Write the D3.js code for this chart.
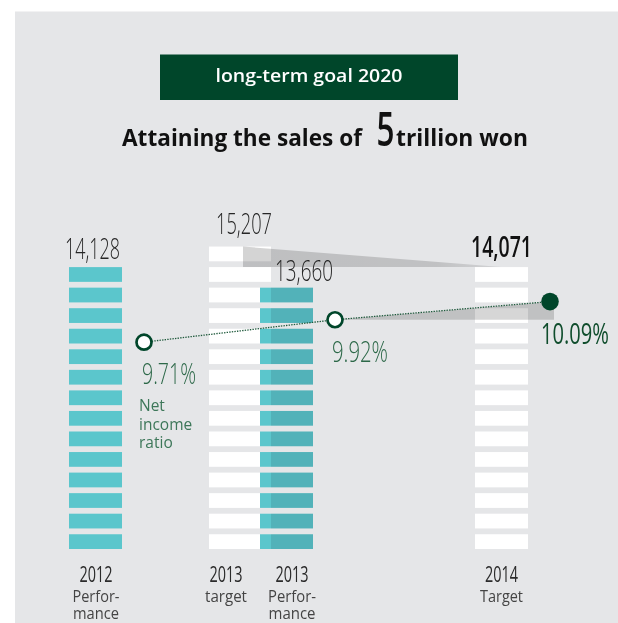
<!DOCTYPE html>
<html>
<head>
<meta charset="utf-8">
<script src="https://cdn.jsdelivr.net/npm/d3@7/dist/d3.min.js"></script>
<style>
  html, body { margin: 0; padding: 0; background: #ffffff; }
  svg { display: block; }
</style>
</head>
<body>
<script>
// Sales (100 million won) per column and the net income ratio line
const years = ["2012", "2013", "2013", "2014"];
const subLabels = [["Perfor-", "mance"], ["target"], ["Perfor-", "mance"], ["Target"]];
const sales = [14128, 15207, 13660, 14071];
const salesLabels = ["14,128", "15,207", "13,660", "14,071"];
const kinds = ["performance", "target", "performance", "target"];
const ratioColumns = [0, 2, 3];
const netIncomeRatio = [9.71, 9.92, 10.09];
const ratioLabels = ["9.71%", "9.92%", "10.09%"];
const unit = 1000;

const W = 618, H = 623;
const C = {
  panel: "#e5e6e8",
  green: "#00462a",
  teal: "#5bc6cc",
  white: "#ffffff",
  ink: "#262626",
  ratioInk: "#2c6848",
  noteInk: "#3d7759"
};
const FONT = "'Open Sans', 'Noto Sans', sans-serif";

const svg = d3.select("body").append("svg").attr("width", W).attr("height", H);

// text helper: fixed-width runs keep the narrow look of the lettering
function label(g, o) {
  const t = g.append("text")
    .attr("x", o.anchor === "middle" ? o.x - o.width / 2 : o.x)
    .attr("y", o.y)
    .attr("font-family", o.family || FONT)
    .attr("font-size", o.size)
    .attr("font-weight", o.weight || 400)
    .attr("fill", o.fill || C.ink)
    .text(o.text);
  if (o.width) t.attr("textLength", o.width).attr("lengthAdjust", "spacingAndGlyphs");
  return t;
}

// background panel
svg.append("rect").attr("x", 15).attr("y", 11.5).attr("width", W - 15).attr("height", H - 11.5)
  .attr("fill", C.panel);

// header
svg.append("rect").attr("x", 160).attr("y", 54.5).attr("width", 298).attr("height", 45.5).attr("fill", C.green);
label(svg, { x: 309, y: 82, text: "long-term goal 2020", size: 18, weight: 600, fill: "#ffffff", anchor: "middle", width: 187 });
label(svg, { x: 122, y: 145.7, text: "Attaining the sales of", size: 23.5, weight: 700, fill: "#111", width: 240 });
label(svg, { x: 376.5, y: 145.7, text: "5", size: 47, weight: 600, fill: "#111", width: 18 });
label(svg, { x: 396, y: 145.7, text: "trillion won", size: 23.5, weight: 700, fill: "#111", width: 132 });

// scales
const y = d3.scaleLinear().domain([0, 16 * unit]).range([549, 549 - 16 * 20.55]);
const gap = 5.8;
const barLeft = d3.scaleOrdinal().domain(d3.range(years.length)).range([69, 209, 260, 475]);
const barWidth = [53, 62, 53, 53];
const rY = d3.scaleLinear().domain([9.5, 10.5]).range([364.6, 257.8]);

const cols = years.map((yr, i) => {
  const n = Math.floor(sales[i] / unit);
  return {
    i, yr, kind: kinds[i], value: sales[i], n,
    x0: barLeft(i), w: barWidth[i],
    cx: barLeft(i) + barWidth[i] / 2,
    top: y(n * unit) + gap
  };
});

function drawColumn(c) {
  const g = svg.append("g");
  const segs = g.selectAll("rect").data(d3.range(c.n)).join("rect")
    .attr("x", c.x0)
    .attr("width", c.w)
    .attr("y", k => y((k + 1) * unit) + gap)
    .attr("height", k => y(k * unit) - y((k + 1) * unit) - gap)
    .attr("fill", c.kind === "target" ? C.white : C.teal);
  if (c.kind === "performance" && c.i > 0) segs.style("mix-blend-mode", "multiply");
}

// column order: 2012, 2013 target, 2014 target, then shades, then 2013 performance
drawColumn(cols[0]);
drawColumn(cols[1]);
drawColumn(cols[3]);

// ratio points
const pts = ratioColumns.map((ci, j) => ({
  x: cols[ci].x0 + cols[ci].w + 22,
  y: rY(netIncomeRatio[j]),
  v: netIncomeRatio[j],
  label: ratioLabels[j]
}));

// shade from 2013 target to 2014 target, fading toward its tip
const defs = svg.append("defs");
const grad = defs.append("linearGradient").attr("id", "shadeFade")
  .attr("x1", "0%").attr("x2", "100%").attr("y1", "0%").attr("y2", "0%");
grad.append("stop").attr("offset", "0%").attr("stop-color", "#000").attr("stop-opacity", 0.17);
grad.append("stop").attr("offset", "75%").attr("stop-color", "#000").attr("stop-opacity", 0.16);
grad.append("stop").attr("offset", "100%").attr("stop-color", "#000").attr("stop-opacity", 0.08);

svg.append("path").attr("fill", "url(#shadeFade)").attr("d", d3.line()([
  [cols[1].cx + 3, cols[1].top],
  [cols[3].cx, cols[3].top],
  [cols[1].cx + 3, cols[3].top]
]));
// shade under the last ratio segment
svg.append("path").attr("fill", "#000").attr("fill-opacity", 0.16).attr("d", d3.line()([
  [pts[1].x, pts[1].y],
  [pts[2].x + 4, pts[2].y],
  [pts[2].x + 4, pts[1].y]
]));

drawColumn(cols[2]);

// sales labels
const valueDx = [-3, 4, 17.5, 0];
const valueDy = [-8, -13, -6.5, -10];
const valueW = [55, 56, 58, 61];
cols.forEach((c, i) => {
  label(svg, {
    x: c.cx + valueDx[i], y: c.top + valueDy[i], text: salesLabels[i],
    size: 29, weight: i === 3 ? 600 : 300, fill: i === 3 ? "#111" : C.ink,
    anchor: "middle", width: valueW[i]
  });
});

// category labels
const catDx = [0.5, -14, 5.5, 0];
const subW = [[47, 46], [42], [48, 47], [43]];
cols.forEach((c, i) => {
  const cx = c.cx + catDx[i];
  label(svg, { x: cx, y: 582.3, text: c.yr, size: 22, weight: 400, fill: "#2b2b2b", anchor: "middle", width: 33 });
  subLabels[i].forEach((s, k) => {
    label(svg, { x: cx, y: 602 + k * 16.5, text: s, size: 16, weight: 400, fill: "#444", anchor: "middle", width: subW[i][k] });
  });
});

// net income ratio line
svg.append("path")
  .attr("d", d3.line().x(d => d.x).y(d => d.y)(pts))
  .attr("fill", "none")
  .attr("stroke", "#1f5a3c")
  .attr("stroke-width", 1.3)
  .attr("stroke-dasharray", "1.4 1.2");

svg.selectAll("circle.pt").data(pts).join("circle")
  .attr("class", "pt")
  .attr("cx", d => d.x).attr("cy", d => d.y)
  .attr("r", (d, j) => j === pts.length - 1 ? 8.8 : 7.5)
  .attr("fill", (d, j) => j === pts.length - 1 ? C.green : "#fff")
  .attr("stroke", C.green)
  .attr("stroke-width", (d, j) => j === pts.length - 1 ? 0 : 2.7);

const pDx = [-2, -3, -9];
const pW = [54, 56, 68];
pts.forEach((p, j) => {
  const last = j === pts.length - 1;
  label(svg, {
    x: p.x + pDx[j], y: p.y + 42, text: p.label, size: 29,
    weight: last ? 500 : 300, fill: last ? "#0f4d2c" : C.ratioInk, width: pW[j]
  });
});

// legend note under the first ratio label
const note = ["Net", "income", "ratio"];
note.forEach((s, k) => {
  label(svg, { x: pts[0].x - 5, y: pts[0].y + 69 + k * 18.5, text: s, size: 15.5, weight: 400, fill: C.noteInk });
});
</script>
</body>
</html>
